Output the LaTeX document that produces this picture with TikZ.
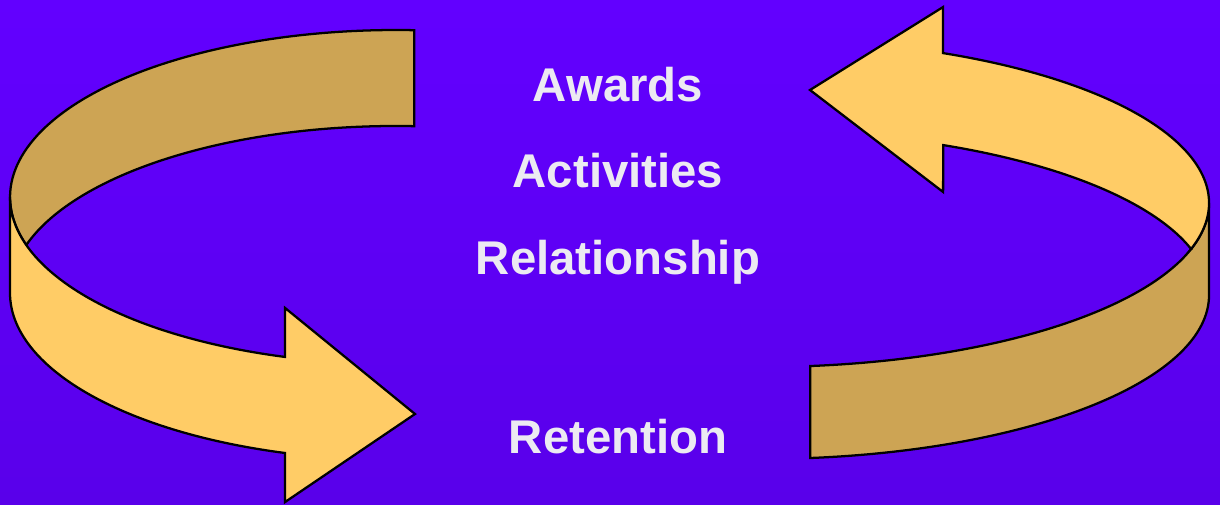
\documentclass[tikz,border=0pt]{standalone}
\usepackage{fontspec}
\setmainfont{Liberation Sans}
\definecolor{bgtop}{RGB}{98,0,255}
\definecolor{bgmid}{RGB}{96,0,252}
\definecolor{bgbot}{RGB}{89,0,234}
\definecolor{bandlight}{RGB}{255,204,102}
\definecolor{banddark}{RGB}{205,164,84}
\definecolor{labelgray}{RGB}{236,234,242}
\tikzset{
  band/.style={draw=black, line width=1.7pt, line join=miter},
  bandfront/.style={band, fill=bandlight},
  bandback/.style={band, fill=banddark},
  label/.style={text=labelgray, anchor=base, inner sep=0pt,
    font=\fontsize{35.5}{40}\selectfont\bfseries}
}
\begin{document}
\begin{tikzpicture}[x=0.75pt, y=0.75pt]
  % canvas
  \useasboundingbox (0,0) rectangle (1220,504);
  \shade[top color=bgtop, middle color=bgmid, bottom color=bgbot] (0,0) rectangle (1220,504);

  % left curved arrow: inner (back) face of the band
  \path[bandback] (414.2,473.8)
    arc[start angle=87.3, end angle=196.7, x radius=386, y radius=167]
    -- (26.3,259)
    arc[start angle=163.3, end angle=87.3, x radius=386, y radius=167]
    -- cycle;
  % left curved arrow: outer (front) face with head
  \path[bandfront] (10,307)
    arc[start angle=180, end angle=253.3, x radius=386, y radius=167]
    -- (285.1,196) -- (415,90) -- (285.1,2) -- (285.1,51)
    arc[start angle=253.3, end angle=180, x radius=386, y radius=167]
    -- cycle;

  % right curved arrow: lower face of the band
  \path[bandback] (1209,301)
    arc[start angle=0, end angle=-83.8, x radius=447, y radius=164]
    -- (810.3,46)
    arc[start angle=-83.8, end angle=0, x radius=447, y radius=164]
    -- cycle;
  % right curved arrow: upper face with head
  \path[bandfront] (943.1,450.9)
    arc[start angle=66.1, end angle=-16.3, x radius=447, y radius=164]
    -- (1191.1,255)
    arc[start angle=16.3, end angle=66.1, x radius=447, y radius=164]
    -- (943.1,312) -- (810,414) -- (943.1,497) -- cycle;

  % labels
  \node[label] (awards) at (618,402) {Awards};
  \node[label] (activities) at (618,316) {Activities};
  \node[label] (relationship) at (618,229) {Relationship};
  \node[label] (retention) at (618,51) {Retention};
\end{tikzpicture}
\end{document}
